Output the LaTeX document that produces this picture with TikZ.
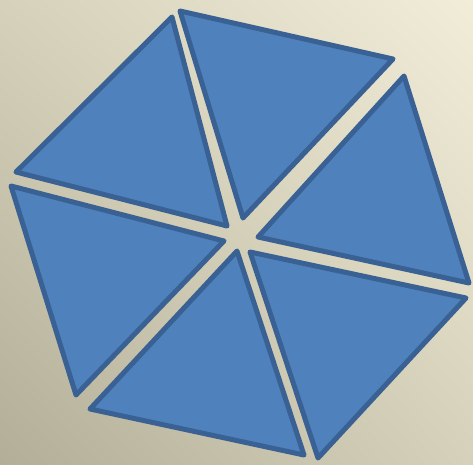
\documentclass[tikz,border=0pt]{standalone}
\usepackage{xcolor}
\usepackage{tikz}
\usetikzlibrary{shadings}
\definecolor{cfill}{HTML}{4F81BD}
\definecolor{cedge}{HTML}{3A6194}
\definecolor{cbgdark}{HTML}{B3AE97}
\definecolor{cbglight}{HTML}{F1EDD9}
\definecolor{cbgmid}{HTML}{D6D1BA}

\begin{document}
\begin{tikzpicture}[x=1pt,y=-1pt]
  \tikzset{piece/.style={fill=cfill,draw=cedge,line width=5pt,line join=round}}
  % background
  \shade[lower left=cbgdark,upper right=cbglight,upper left=cbgmid,lower right=cbgmid] (0,0) rectangle (473,464);
  \useasboundingbox (0,0) rectangle (473,464);
  % six triangles
  \draw[piece] (180,11) -- (393,59) -- (243,218) -- cycle;
  \draw[piece] (172,17) -- (16,172) -- (227,226) -- cycle;
  \draw[piece] (404,76) -- (469,283) -- (258,237) -- cycle;
  \draw[piece] (466,298) -- (318,458) -- (250,252) -- cycle;
  \draw[piece] (304,455) -- (90,409) -- (237,251) -- cycle;
  \draw[piece] (11,186) -- (76,395) -- (224,241) -- cycle;
\end{tikzpicture}
\end{document}
